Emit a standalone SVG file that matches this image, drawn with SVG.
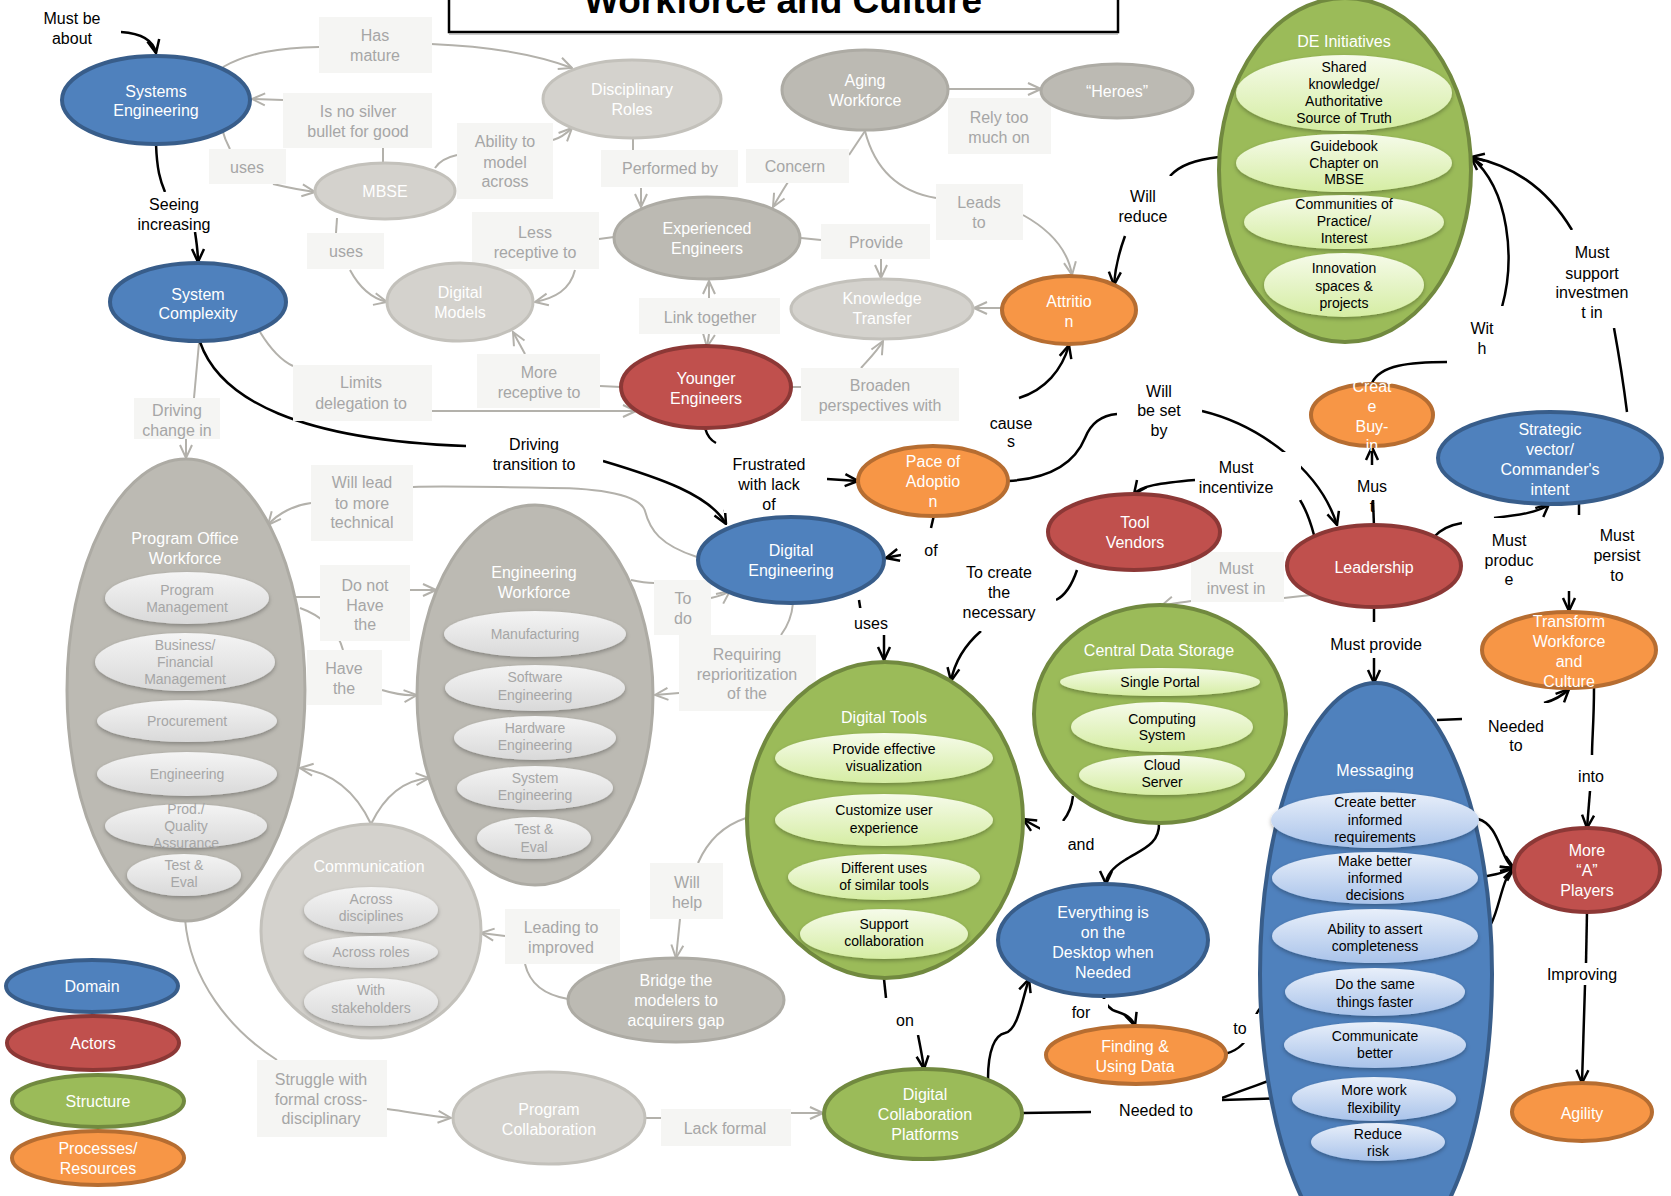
<svg xmlns="http://www.w3.org/2000/svg" width="1671" height="1196" viewBox="0 0 1671 1196">
<defs>
<style>
text{font-family:"Liberation Sans",Arial,sans-serif;text-anchor:middle}
.bl{fill:#4F81BD;stroke:#385D8A;stroke-width:4}
.rd{fill:#C0504D;stroke:#8C3836;stroke-width:4}
.gr{fill:#9BBB59;stroke:#71893F;stroke-width:4}
.or{fill:#F79646;stroke:#B66D31;stroke-width:4}
.gd{fill:#BCBAB3;stroke:#ADABA4;stroke-width:3}
.gl{fill:#D4D2CD;stroke:#C3C1BB;stroke-width:3}
.sg{fill:url(#ggr);filter:url(#sh)}
.sb{fill:url(#gbl);filter:url(#sh)}
.sx{fill:url(#ggy);filter:url(#sh)}
.nt{font-size:16px;fill:#fff}
.st{font-size:14px;fill:#000}
.sxt{font-size:14px;fill:#A6A6A6}
.lt{font-size:16px;fill:#000}
.gt{font-size:16px;fill:#A6A6A6}
.lb{fill:#fff}
.gb{fill:#F5F5F3}
.cb{fill:none;stroke:#000;stroke-width:2.5}
.cg{fill:none;stroke:#B3B1AB;stroke-width:2}
.cba{fill:none;stroke:#000;stroke-width:2.5;marker-end:url(#ab)}
.cga{fill:none;stroke:#B3B1AB;stroke-width:2;marker-end:url(#ag)}
</style>
<marker id="ab" viewBox="0 0 16 16" refX="15" refY="8" markerWidth="16" markerHeight="16" markerUnits="userSpaceOnUse" orient="auto"><path d="M2,2 L15,8 L2,14" fill="none" stroke="#000" stroke-width="2.5"/></marker>
<marker id="ag" viewBox="0 0 16 16" refX="15" refY="8" markerWidth="16" markerHeight="16" markerUnits="userSpaceOnUse" orient="auto"><path d="M2,2 L15,8 L2,14" fill="none" stroke="#B3B1AB" stroke-width="2"/></marker>
<linearGradient id="ggr" x1="0" y1="0" x2="0" y2="1"><stop offset="0" stop-color="#F6FBEA"/><stop offset="1" stop-color="#D5EDA3"/></linearGradient>
<linearGradient id="gbl" x1="0" y1="0" x2="0" y2="1"><stop offset="0" stop-color="#E8EFFA"/><stop offset="1" stop-color="#A9C3EA"/></linearGradient>
<linearGradient id="ggy" x1="0" y1="0" x2="0" y2="1"><stop offset="0" stop-color="#F4F4F4"/><stop offset="1" stop-color="#D9D9D9"/></linearGradient>
<filter id="sh" x="-20%" y="-30%" width="140%" height="170%"><feDropShadow dx="0" dy="2" stdDeviation="2" flood-color="#000" flood-opacity="0.3"/></filter>
</defs>

<g id="title">
<rect x="449" y="-10" width="669" height="42" fill="#fff" stroke="#000" stroke-width="2.5"/>
<line x1="449" y1="34" x2="1118" y2="34" stroke="#999" stroke-width="1"/>
<text x="783" y="13" style="font-size:37px;font-weight:bold;fill:#000">Workforce and Culture</text>
</g>

<g id="connectors">
<!-- gray connectors -->
<path class="cg" d="M223,67 C250,52 280,48 319,47"/>
<path class="cga" d="M431,44 C480,46 530,52 572,68"/>
<path class="cga" d="M283,100 L252,99"/>
<path class="cg" d="M383,162 L383,148"/>
<path class="cg" d="M223,132 C225,140 228,145 230,149"/>
<path class="cga" d="M273,184 C290,188 300,190 315,192"/>
<path class="cg" d="M337,218 L336,233"/>
<path class="cga" d="M350,270 C358,285 370,298 387,302"/>
<path class="cg" d="M435,168 C440,160 448,157 457,155"/>
<path class="cga" d="M553,140 C560,138 566,134 572,128"/>
<path class="cg" d="M633,138 L633,150"/>
<path class="cga" d="M641,188 L641,207"/>
<path class="cg" d="M865,131 L849,155"/>
<path class="cga" d="M788,182 C783,190 778,198 773,207"/>
<path class="cga" d="M949,89 L1041,89"/>
<path class="cg" d="M865,131 C875,170 900,192 936,198"/>
<path class="cga" d="M1023,215 C1050,230 1068,250 1072,275"/>
<path class="cg" d="M801,238 L821,240"/>
<path class="cga" d="M881,259 L881,278"/>
<path class="cga" d="M1003,308 L974,308"/>
<path class="cg" d="M614,237 L599,239"/>
<path class="cga" d="M575,270 C570,290 555,298 535,302"/>
<path class="cga" d="M709,298 L709,281"/>
<path class="cga" d="M709,334 L707,347"/>
<path class="cg" d="M621,387 L600,386"/>
<path class="cga" d="M525,354 L513,332"/>
<path class="cg" d="M791,387 L801,387"/>
<path class="cga" d="M861,368 C870,358 878,350 883,341"/>
<path class="cg" d="M260,332 C268,345 280,360 293,366"/>
<path class="cga" d="M432,411 L636,411"/>
<path class="cg" d="M199,343 L194,398"/>
<path class="cga" d="M186,439 L186,458"/>
<path class="cg" d="M697,557 C660,545 650,530 645,511 C640,495 600,488 551,488 C500,487 440,486 413,487"/>
<path class="cga" d="M311,503 C295,505 278,513 268,525"/>
<path class="cg" d="M269,597 L320,597"/>
<path class="cga" d="M410,590 L436,590"/>
<path class="cg" d="M300,608 C320,615 338,630 343,650"/>
<path class="cga" d="M382,690 C395,694 405,696 417,695"/>
<path class="cga" d="M371,824 C355,790 330,772 300,768"/>
<path class="cga" d="M371,824 C385,795 405,780 429,778"/>
<path class="cg" d="M631,580 C640,582 648,583 654,583"/>
<path class="cga" d="M711,598 C720,596 726,594 730,591"/>
<path class="cg" d="M793,603 C792,615 787,627 781,635"/>
<path class="cga" d="M679,693 L655,695"/>
<path class="cg" d="M746,818 C725,825 708,840 698,863"/>
<path class="cga" d="M680,919 L676,958"/>
<path class="cg" d="M568,999 C545,995 530,985 525,964"/>
<path class="cga" d="M505,936 L481,933"/>
<path class="cg" d="M185,919 C190,980 230,1030 277,1060"/>
<path class="cga" d="M387,1109 C410,1112 430,1116 451,1118"/>
<path class="cg" d="M645,1118 L661,1118"/>
<path class="cga" d="M791,1113 L823,1113"/>
<path class="cg" d="M1311,595 L1284,598"/>
<path class="cga" d="M1191,601 C1178,603 1168,604 1161,606"/>

<!-- black connectors -->
<path class="cba" d="M121,32 Q152,34 156,53"/>
<path class="cb" d="M156,144 C157,170 160,180 165,192"/>
<path class="cba" d="M195,232 C197,245 198,252 198,262"/>
<path class="cb" d="M200,342 C220,400 300,440 466,446"/>
<path class="cba" d="M603,461 C660,478 710,495 726,524"/>
<path class="cb" d="M705,428 C707,435 710,440 716,443"/>
<path class="cba" d="M827,479 L858,481"/>
<path class="cb" d="M934,515 L931,528"/>
<path class="cba" d="M901,555 C895,556 890,557 886,558"/>
<path class="cb" d="M859,600 L861,613"/>
<path class="cba" d="M884,635 L884,660"/>
<path class="cb" d="M1008,481 C1060,478 1078,455 1085,438 C1092,420 1105,415 1117,414"/>
<path class="cba" d="M1202,411 C1260,425 1320,470 1337,525"/>
<path class="cba" d="M1019,398 C1045,390 1062,370 1069,345"/>
<path class="cb" d="M1219,157 C1195,160 1180,165 1170,176"/>
<path class="cba" d="M1125,236 C1118,255 1115,270 1114,285"/>
<path class="cb" d="M1314,535 C1310,520 1305,508 1300,500"/>
<path class="cba" d="M1195,480 C1160,483 1140,486 1134,494"/>
<path class="cb" d="M1077,570 C1072,585 1066,595 1056,600"/>
<path class="cba" d="M981,631 C965,645 955,660 951,681"/>
<path class="cb" d="M1374,526 L1373,500"/>
<path class="cba" d="M1372,465 L1372,447"/>
<path class="cb" d="M1372,383 C1380,365 1410,362 1447,362"/>
<path class="cba" d="M1502,307 C1515,260 1510,190 1471,157"/>
<path class="cb" d="M1627,412 C1623,380 1618,350 1614,328"/>
<path class="cba" d="M1572,230 C1545,185 1510,165 1471,157"/>
<path class="cb" d="M1434,537 C1440,530 1450,525 1462,523"/>
<path class="cba" d="M1494,518 C1520,515 1540,512 1549,504"/>
<path class="cb" d="M1579,503 L1579,515"/>
<path class="cba" d="M1569,573 L1569,611"/>
<path class="cb" d="M1374,607 L1374,622"/>
<path class="cba" d="M1374,658 L1374,683"/>
<path class="cb" d="M1437,720 L1462,719"/>
<path class="cba" d="M1544,703 C1555,700 1563,695 1569,689"/>
<path class="cb" d="M1594,688 C1594,720 1592,740 1592,755"/>
<path class="cba" d="M1590,791 L1587,828"/>
<path class="cba" d="M1478,819 C1500,825 1500,860 1514,868"/>
<path class="cba" d="M1478,877 C1495,876 1503,872 1514,868"/>
<path class="cba" d="M1478,936 C1500,930 1498,880 1514,868"/>
<path class="cb" d="M1587,912 L1586,963"/>
<path class="cba" d="M1585,985 L1582,1083"/>
<path class="cb" d="M1073,796 C1072,805 1068,815 1063,821"/>
<path class="cba" d="M1041,829 C1035,826 1028,822 1023,819"/>
<path class="cba" d="M1159,823 C1160,845 1140,850 1125,860 C1112,868 1106,875 1106,884"/>
<path class="cba" d="M1103,995 C1105,1005 1110,1010 1118,1012 C1128,1015 1133,1020 1135,1026"/>
<path class="cb" d="M884,979 L886,998"/>
<path class="cba" d="M918,1035 C921,1050 923,1060 924,1069"/>
<path class="cba" d="M988,1079 C988,1050 995,1035 1005,1033 C1018,1030 1022,1000 1029,979"/>
<path class="cba" d="M1225,1054 C1240,1050 1248,1040 1250,1030 C1255,1010 1268,995 1285,991"/>
<path class="cb" d="M1023,1113 L1091,1112"/>
<path class="cba" d="M1222,1098 C1255,1085 1290,1075 1311,1063"/>
<path class="cba" d="M1222,1100 L1292,1098"/>

<!-- gray labels -->
<rect class="gb" x="319" y="17" width="113" height="56"/>
<text class="gt"><tspan x="375" y="41">Has</tspan><tspan x="375" y="61">mature</tspan></text>
<rect class="gb" x="283" y="93" width="149" height="55"/>
<text class="gt"><tspan x="358" y="117">Is no silver</tspan><tspan x="358" y="137">bullet for good</tspan></text>
<rect class="gb" x="209" y="149" width="77" height="35"/>
<text class="gt" x="247" y="173">uses</text>
<rect class="gb" x="307" y="233" width="77" height="36"/>
<text class="gt" x="346" y="257">uses</text>
<rect class="gb" x="457" y="123" width="96" height="76"/>
<text class="gt"><tspan x="505" y="147">Ability to</tspan><tspan x="505" y="168">model</tspan><tspan x="505" y="187">across</tspan></text>
<rect class="gb" x="601" y="150" width="137" height="37"/>
<text class="gt" x="670" y="174">Performed by</text>
<rect class="gb" x="746" y="149" width="103" height="34"/>
<text class="gt" x="795" y="172">Concern</text>
<rect class="gb" x="948" y="98" width="103" height="56"/>
<text class="gt"><tspan x="999" y="123">Rely too</tspan><tspan x="999" y="143">much on</tspan></text>
<rect class="gb" x="936" y="184" width="87" height="56"/>
<text class="gt"><tspan x="979" y="208">Leads</tspan><tspan x="979" y="228">to</tspan></text>
<rect class="gb" x="472" y="212" width="127" height="57"/>
<text class="gt"><tspan x="535" y="238">Less</tspan><tspan x="535" y="258">receptive to</tspan></text>
<rect class="gb" x="821" y="224" width="109" height="35"/>
<text class="gt" x="876" y="248">Provide</text>
<rect class="gb" x="639" y="298" width="141" height="36"/>
<text class="gt" x="710" y="323">Link together</text>
<rect class="gb" x="477" y="354" width="123" height="54"/>
<text class="gt"><tspan x="539" y="378">More</tspan><tspan x="539" y="398">receptive to</tspan></text>
<rect class="gb" x="801" y="368" width="158" height="53"/>
<text class="gt"><tspan x="880" y="391">Broaden</tspan><tspan x="880" y="411">perspectives with</tspan></text>
<rect class="gb" x="293" y="365" width="139" height="56"/>
<text class="gt"><tspan x="361" y="388">Limits</tspan><tspan x="361" y="409">delegation to</tspan></text>
<rect class="gb" x="134" y="398" width="86" height="41"/>
<text class="gt"><tspan x="177" y="416">Driving</tspan><tspan x="177" y="436">change in</tspan></text>
<rect class="gb" x="311" y="465" width="102" height="76"/>
<text class="gt"><tspan x="362" y="488">Will lead</tspan><tspan x="362" y="509">to more</tspan><tspan x="362" y="528">technical</tspan></text>
<rect class="gb" x="320" y="565" width="90" height="76"/>
<text class="gt"><tspan x="365" y="591">Do not</tspan><tspan x="365" y="611">Have</tspan><tspan x="365" y="630">the</tspan></text>
<rect class="gb" x="307" y="650" width="75" height="55"/>
<text class="gt"><tspan x="344" y="674">Have</tspan><tspan x="344" y="694">the</tspan></text>
<rect class="gb" x="654" y="580" width="57" height="55"/>
<text class="gt"><tspan x="683" y="604">To</tspan><tspan x="683" y="624">do</tspan></text>
<rect class="gb" x="679" y="635" width="137" height="76"/>
<text class="gt"><tspan x="747" y="660">Requiring</tspan><tspan x="747" y="680">reprioritization</tspan><tspan x="747" y="699">of the</tspan></text>
<rect class="gb" x="650" y="863" width="73" height="56"/>
<text class="gt"><tspan x="687" y="888">Will</tspan><tspan x="687" y="908">help</tspan></text>
<rect class="gb" x="505" y="909" width="115" height="55"/>
<text class="gt"><tspan x="561" y="933">Leading to</tspan><tspan x="561" y="953">improved</tspan></text>
<rect class="gb" x="661" y="1109" width="130" height="37"/>
<text class="gt" x="725" y="1134">Lack formal</text>
<rect class="gb" x="257" y="1060" width="130" height="77"/>
<text class="gt"><tspan x="321" y="1085">Struggle with</tspan><tspan x="321" y="1105">formal cross-</tspan><tspan x="321" y="1124">disciplinary</tspan></text>
<rect class="gb" x="1191" y="552" width="93" height="50"/>
<text class="gt"><tspan x="1236" y="574">Must</tspan><tspan x="1236" y="594">invest in</tspan></text>

<!-- black labels -->
<rect class="lb" x="30" y="0" width="91" height="50"/>
<text class="lt"><tspan x="72" y="24">Must be</tspan><tspan x="72" y="44">about</tspan></text>
<rect class="lb" x="132" y="192" width="85" height="40"/>
<text class="lt"><tspan x="174" y="210">Seeing</tspan><tspan x="174" y="230">increasing</tspan></text>
<rect class="lb" x="466" y="423" width="137" height="55"/>
<text class="lt"><tspan x="534" y="450">Driving</tspan><tspan x="534" y="470">transition to</tspan></text>
<rect class="lb" x="724" y="443" width="103" height="70"/>
<text class="lt"><tspan x="769" y="470">Frustrated</tspan><tspan x="769" y="490">with lack</tspan><tspan x="769" y="510">of</tspan></text>
<rect class="lb" x="901" y="530" width="57" height="28"/>
<text class="lt" x="931" y="556">of</text>
<rect class="lb" x="836" y="608" width="70" height="27"/>
<text class="lt" x="871" y="629">uses</text>
<rect class="lb" x="969" y="400" width="87" height="47"/>
<text class="lt"><tspan x="1011" y="429">cause</tspan><tspan x="1011" y="447">s</tspan></text>
<rect class="lb" x="1117" y="378" width="85" height="67"/>
<text class="lt"><tspan x="1159" y="397">Will</tspan><tspan x="1159" y="416">be set</tspan><tspan x="1159" y="436">by</tspan></text>
<rect class="lb" x="1195" y="452" width="106" height="48"/>
<text class="lt"><tspan x="1236" y="473">Must</tspan><tspan x="1236" y="493">incentivize</tspan></text>
<rect class="lb" x="959" y="553" width="97" height="78"/>
<text class="lt"><tspan x="999" y="578">To create</tspan><tspan x="999" y="598">the</tspan><tspan x="999" y="618">necessary</tspan></text>
<rect class="lb" x="1099" y="176" width="91" height="54"/>
<text class="lt"><tspan x="1143" y="202">Will</tspan><tspan x="1143" y="222">reduce</tspan></text>
<rect class="lb" x="1447" y="306" width="72" height="56"/>
<text class="lt"><tspan x="1482" y="334">Wit</tspan><tspan x="1482" y="354">h</tspan></text>
<rect class="lb" x="1534" y="230" width="118" height="98"/>
<text class="lt"><tspan x="1592" y="258">Must</tspan><tspan x="1592" y="279">support</tspan><tspan x="1592" y="298">investmen</tspan><tspan x="1592" y="318">t in</tspan></text>
<rect class="lb" x="1339" y="465" width="70" height="35"/>
<text class="lt"><tspan x="1372" y="492">Mus</tspan><tspan x="1372" y="512">t</tspan></text>
<rect class="lb" x="1462" y="518" width="95" height="67"/>
<text class="lt"><tspan x="1509" y="546">Must</tspan><tspan x="1509" y="566">produc</tspan><tspan x="1509" y="585">e</tspan></text>
<rect class="lb" x="1557" y="515" width="110" height="76"/>
<text class="lt"><tspan x="1617" y="541">Must</tspan><tspan x="1617" y="561">persist</tspan><tspan x="1617" y="581">to</tspan></text>
<rect class="lb" x="1311" y="622" width="135" height="36"/>
<text class="lt" x="1376" y="650">Must provide</text>
<rect class="lb" x="1462" y="703" width="110" height="60"/>
<text class="lt"><tspan x="1516" y="732">Needed</tspan><tspan x="1516" y="751">to</tspan></text>
<rect class="lb" x="1572" y="755" width="54" height="36"/>
<text class="lt" x="1591" y="782">into</text>
<rect class="lb" x="1532" y="963" width="102" height="22"/>
<text class="lt" x="1582" y="980">Improving</text>
<rect class="lb" x="1040" y="821" width="64" height="35"/>
<text class="lt" x="1081" y="850">and</text>
<rect class="lb" x="1056" y="999" width="52" height="20"/>
<text class="lt" x="1081" y="1018">for</text>
<rect class="lb" x="868" y="998" width="74" height="37"/>
<text class="lt" x="905" y="1026">on</text>
<rect class="lb" x="1222" y="1014" width="36" height="29"/>
<text class="lt" x="1240" y="1034">to</text>
<rect class="lb" x="1091" y="1089" width="131" height="37"/>
<text class="lt" x="1156" y="1116">Needed to</text>
</g>

<g id="systems-engineering"><ellipse class="bl" cx="156" cy="100" rx="94" ry="44"/><text class="nt"><tspan x="156" y="97">Systems</tspan><tspan x="156" y="116">Engineering</tspan></text></g>
<g id="system-complexity"><ellipse class="bl" cx="198" cy="302" rx="88" ry="39"/><text class="nt"><tspan x="198" y="300">System</tspan><tspan x="198" y="319">Complexity</tspan></text></g>
<g id="digital-engineering"><ellipse class="bl" cx="791" cy="560" rx="93" ry="43"/><text class="nt"><tspan x="791" y="556">Digital</tspan><tspan x="791" y="576">Engineering</tspan></text></g>
<g id="strategic-vector"><ellipse class="bl" cx="1550" cy="458" rx="112" ry="46"/><text class="nt"><tspan x="1550" y="435">Strategic</tspan><tspan x="1550" y="455">vector/</tspan><tspan x="1550" y="475">Commander's</tspan><tspan x="1550" y="495">intent</tspan></text></g>
<g id="everything"><ellipse class="bl" cx="1103" cy="940" rx="105" ry="56"/><text class="nt"><tspan x="1103" y="918">Everything is</tspan><tspan x="1103" y="938">on the</tspan><tspan x="1103" y="958">Desktop when</tspan><tspan x="1103" y="978">Needed</tspan></text></g>

<g id="messaging"><ellipse class="bl" cx="1376" cy="974" rx="116" ry="291"/><text class="nt" x="1375" y="776">Messaging</text>
<ellipse class="sb" cx="1375" cy="820" rx="104" ry="28"/><text class="st"><tspan x="1375" y="807">Create better</tspan><tspan x="1375" y="825">informed</tspan><tspan x="1375" y="842">requirements</tspan></text>
<ellipse class="sb" cx="1375" cy="878" rx="103" ry="26"/><text class="st"><tspan x="1375" y="866">Make better</tspan><tspan x="1375" y="883">informed</tspan><tspan x="1375" y="900">decisions</tspan></text>
<ellipse class="sb" cx="1375" cy="936" rx="103" ry="27"/><text class="st"><tspan x="1375" y="934">Ability to assert</tspan><tspan x="1375" y="951">completeness</tspan></text>
<ellipse class="sb" cx="1375" cy="992" rx="90" ry="24"/><text class="st"><tspan x="1375" y="989">Do the same</tspan><tspan x="1375" y="1007">things faster</tspan></text>
<ellipse class="sb" cx="1375" cy="1045" rx="91" ry="23"/><text class="st"><tspan x="1375" y="1041">Communicate</tspan><tspan x="1375" y="1058">better</tspan></text>
<ellipse class="sb" cx="1374" cy="1099" rx="82" ry="22"/><text class="st"><tspan x="1374" y="1095">More work</tspan><tspan x="1374" y="1113">flexibility</tspan></text>
<ellipse class="sb" cx="1378" cy="1142" rx="67" ry="19"/><text class="st"><tspan x="1378" y="1139">Reduce</tspan><tspan x="1378" y="1156">risk</tspan></text>
</g>

<g id="younger-engineers"><ellipse class="rd" cx="706" cy="387" rx="85" ry="41"/><text class="nt"><tspan x="706" y="384">Younger</tspan><tspan x="706" y="404">Engineers</tspan></text></g>
<g id="tool-vendors"><ellipse class="rd" cx="1134" cy="532" rx="86" ry="38"/><text class="nt"><tspan x="1135" y="528">Tool</tspan><tspan x="1135" y="548">Vendors</tspan></text></g>
<g id="leadership"><ellipse class="rd" cx="1374" cy="566" rx="87" ry="41"/><text class="nt" x="1374" y="573">Leadership</text></g>
<g id="more-a-players"><ellipse class="rd" cx="1587" cy="870" rx="73" ry="42"/><text class="nt"><tspan x="1587" y="856">More</tspan><tspan x="1587" y="876">&#8220;A&#8221;</tspan><tspan x="1587" y="896">Players</tspan></text></g>

<g id="de-initiatives"><ellipse class="gr" cx="1345" cy="170" rx="126" ry="172"/><text class="nt" x="1344" y="47">DE Initiatives</text>
<ellipse class="sg" cx="1344" cy="93" rx="108" ry="38"/><text class="st"><tspan x="1344" y="72">Shared</tspan><tspan x="1344" y="89">knowledge/</tspan><tspan x="1344" y="106">Authoritative</tspan><tspan x="1344" y="123">Source of Truth</tspan></text>
<ellipse class="sg" cx="1344" cy="163" rx="108" ry="29"/><text class="st"><tspan x="1344" y="151">Guidebook</tspan><tspan x="1344" y="168">Chapter on</tspan><tspan x="1344" y="184">MBSE</tspan></text>
<ellipse class="sg" cx="1344" cy="222" rx="100" ry="27"/><text class="st"><tspan x="1344" y="209">Communities of</tspan><tspan x="1344" y="226">Practice/</tspan><tspan x="1344" y="243">Interest</tspan></text>
<ellipse class="sg" cx="1344" cy="285" rx="80" ry="32"/><text class="st"><tspan x="1344" y="273">Innovation</tspan><tspan x="1344" y="291">spaces &amp;</tspan><tspan x="1344" y="308">projects</tspan></text>
</g>

<g id="digital-tools"><ellipse class="gr" cx="885" cy="820" rx="138" ry="158"/><text class="nt" x="884" y="723">Digital Tools</text>
<ellipse class="sg" cx="884" cy="758" rx="109" ry="25"/><text class="st"><tspan x="884" y="754">Provide effective</tspan><tspan x="884" y="771">visualization</tspan></text>
<ellipse class="sg" cx="884" cy="820" rx="109" ry="26"/><text class="st"><tspan x="884" y="815">Customize user</tspan><tspan x="884" y="833">experience</tspan></text>
<ellipse class="sg" cx="884" cy="877" rx="96" ry="23"/><text class="st"><tspan x="884" y="873">Different uses</tspan><tspan x="884" y="890">of similar tools</tspan></text>
<ellipse class="sg" cx="884" cy="934" rx="84" ry="25"/><text class="st"><tspan x="884" y="929">Support</tspan><tspan x="884" y="946">collaboration</tspan></text>
</g>

<g id="central-data-storage"><ellipse class="gr" cx="1160" cy="714" rx="126" ry="109"/><text class="nt" x="1159" y="656">Central Data Storage</text>
<ellipse class="sg" cx="1160" cy="682" rx="100" ry="14"/><text class="st" x="1160" y="687">Single Portal</text>
<ellipse class="sg" cx="1162" cy="727" rx="91" ry="25"/><text class="st"><tspan x="1162" y="724">Computing</tspan><tspan x="1162" y="740">System</tspan></text>
<ellipse class="sg" cx="1162" cy="775" rx="83" ry="20"/><text class="st"><tspan x="1162" y="770">Cloud</tspan><tspan x="1162" y="787">Server</tspan></text>
</g>

<g id="digital-collaboration-platforms"><ellipse class="gr" cx="923" cy="1114" rx="99" ry="45"/><text class="nt"><tspan x="925" y="1100">Digital</tspan><tspan x="925" y="1120">Collaboration</tspan><tspan x="925" y="1140">Platforms</tspan></text></g>

<g id="attrition"><ellipse class="or" cx="1069" cy="310" rx="67" ry="34"/><text class="nt"><tspan x="1069" y="307">Attritio</tspan><tspan x="1069" y="327">n</tspan></text></g>
<g id="pace-of-adoption"><ellipse class="or" cx="933" cy="481" rx="75" ry="35"/><text class="nt"><tspan x="933" y="467">Pace of</tspan><tspan x="933" y="487">Adoptio</tspan><tspan x="933" y="507">n</tspan></text></g>
<g id="create-buy-in"><ellipse class="or" cx="1372" cy="415" rx="61" ry="31"/><text class="nt"><tspan x="1372" y="392">Creat</tspan><tspan x="1372" y="412">e</tspan><tspan x="1372" y="432">Buy-</tspan><tspan x="1372" y="451">in</tspan></text></g>
<g id="transform-workforce"><ellipse class="or" cx="1569" cy="650" rx="87" ry="38"/><text class="nt"><tspan x="1569" y="627">Transform</tspan><tspan x="1569" y="647">Workforce</tspan><tspan x="1569" y="667">and</tspan><tspan x="1569" y="687">Culture</tspan></text></g>
<g id="finding-using-data"><ellipse class="or" cx="1136" cy="1055" rx="90" ry="29"/><text class="nt"><tspan x="1135" y="1052">Finding &amp;</tspan><tspan x="1135" y="1072">Using Data</tspan></text></g>
<g id="agility"><ellipse class="or" cx="1582" cy="1112" rx="70" ry="29"/><text class="nt" x="1582" y="1119">Agility</text></g>

<g id="aging-workforce"><ellipse class="gd" cx="865" cy="90" rx="83" ry="40"/><text class="nt"><tspan x="865" y="86">Aging</tspan><tspan x="865" y="106">Workforce</tspan></text></g>
<g id="heroes"><ellipse class="gd" cx="1117" cy="91" rx="76" ry="27"/><text class="nt" x="1117" y="97">&#8220;Heroes&#8221;</text></g>
<g id="experienced-engineers"><ellipse class="gd" cx="707" cy="238" rx="93" ry="41"/><text class="nt"><tspan x="707" y="234">Experienced</tspan><tspan x="707" y="254">Engineers</tspan></text></g>
<g id="bridge-gap"><ellipse class="gd" cx="676" cy="1000" rx="108" ry="42"/><text class="nt"><tspan x="676" y="986">Bridge the</tspan><tspan x="676" y="1006">modelers to</tspan><tspan x="676" y="1026">acquirers gap</tspan></text></g>
<g id="disciplinary-roles"><ellipse class="gl" cx="632" cy="99" rx="89" ry="39"/><text class="nt"><tspan x="632" y="95">Disciplinary</tspan><tspan x="632" y="115">Roles</tspan></text></g>
<g id="mbse"><ellipse class="gl" cx="385" cy="191" rx="70" ry="28"/><text class="nt" x="385" y="197">MBSE</text></g>
<g id="digital-models"><ellipse class="gl" cx="460" cy="302" rx="73" ry="39"/><text class="nt"><tspan x="460" y="298">Digital</tspan><tspan x="460" y="318">Models</tspan></text></g>
<g id="knowledge-transfer"><ellipse class="gl" cx="882" cy="309" rx="91" ry="30"/><text class="nt"><tspan x="882" y="304">Knowledge</tspan><tspan x="882" y="324">Transfer</tspan></text></g>
<g id="program-collaboration"><ellipse class="gl" cx="549" cy="1118" rx="96" ry="46"/><text class="nt"><tspan x="549" y="1115">Program</tspan><tspan x="549" y="1135">Collaboration</tspan></text></g>

<g id="program-office-workforce"><ellipse class="gd" cx="186" cy="690" rx="119" ry="231"/><text class="nt"><tspan x="185" y="544">Program Office</tspan><tspan x="185" y="564">Workforce</tspan></text>
<ellipse class="sx" cx="187" cy="598" rx="82" ry="26"/><text class="sxt"><tspan x="187" y="595">Program</tspan><tspan x="187" y="612">Management</tspan></text>
<ellipse class="sx" cx="185" cy="662" rx="90" ry="29"/><text class="sxt"><tspan x="185" y="650">Business/</tspan><tspan x="185" y="667">Financial</tspan><tspan x="185" y="684">Management</tspan></text>
<ellipse class="sx" cx="187" cy="721" rx="90" ry="21"/><text class="sxt" x="187" y="726">Procurement</text>
<ellipse class="sx" cx="187" cy="774" rx="90" ry="22"/><text class="sxt" x="187" y="779">Engineering</text>
<ellipse class="sx" cx="186" cy="826" rx="81" ry="22"/><text class="sxt"><tspan x="186" y="814">Prod./</tspan><tspan x="186" y="831">Quality</tspan><tspan x="186" y="848">Assurance</tspan></text>
<ellipse class="sx" cx="184" cy="875" rx="57" ry="21"/><text class="sxt"><tspan x="184" y="870">Test &amp;</tspan><tspan x="184" y="887">Eval</tspan></text>
</g>

<g id="engineering-workforce"><ellipse class="gd" cx="535" cy="695" rx="118" ry="190"/><text class="nt"><tspan x="534" y="578">Engineering</tspan><tspan x="534" y="598">Workforce</tspan></text>
<ellipse class="sx" cx="535" cy="634" rx="91" ry="23"/><text class="sxt" x="535" y="639">Manufacturing</text>
<ellipse class="sx" cx="535" cy="688" rx="90" ry="23"/><text class="sxt"><tspan x="535" y="682">Software</tspan><tspan x="535" y="700">Engineering</tspan></text>
<ellipse class="sx" cx="535" cy="738" rx="81" ry="22"/><text class="sxt"><tspan x="535" y="733">Hardware</tspan><tspan x="535" y="750">Engineering</tspan></text>
<ellipse class="sx" cx="535" cy="788" rx="78" ry="22"/><text class="sxt"><tspan x="535" y="783">System</tspan><tspan x="535" y="800">Engineering</tspan></text>
<ellipse class="sx" cx="534" cy="838" rx="57" ry="21"/><text class="sxt"><tspan x="534" y="834">Test &amp;</tspan><tspan x="534" y="852">Eval</tspan></text>
</g>

<g id="communication"><ellipse class="gl" cx="371" cy="931" rx="110" ry="107"/><text class="nt" x="369" y="872">Communication</text>
<ellipse class="sx" cx="371" cy="910" rx="67" ry="23"/><text class="sxt"><tspan x="371" y="904">Across</tspan><tspan x="371" y="921">disciplines</tspan></text>
<ellipse class="sx" cx="371" cy="952" rx="67" ry="16"/><text class="sxt" x="371" y="957">Across roles</text>
<ellipse class="sx" cx="371" cy="1002" rx="67" ry="24"/><text class="sxt"><tspan x="371" y="995">With</tspan><tspan x="371" y="1013">stakeholders</tspan></text>
</g>

<g id="legend">
<g id="legend-domain"><ellipse class="bl" cx="92" cy="986" rx="86" ry="26"/><text class="nt" x="92" y="992">Domain</text></g>
<g id="legend-actors"><ellipse class="rd" cx="93" cy="1043" rx="86" ry="27"/><text class="nt" x="93" y="1049">Actors</text></g>
<g id="legend-structure"><ellipse class="gr" cx="98" cy="1101" rx="86" ry="26"/><text class="nt" x="98" y="1107">Structure</text></g>
<g id="legend-processes"><ellipse class="or" cx="98" cy="1158" rx="86" ry="27"/><text class="nt"><tspan x="98" y="1154">Processes/</tspan><tspan x="98" y="1174">Resources</tspan></text></g>
</g>
</svg>
